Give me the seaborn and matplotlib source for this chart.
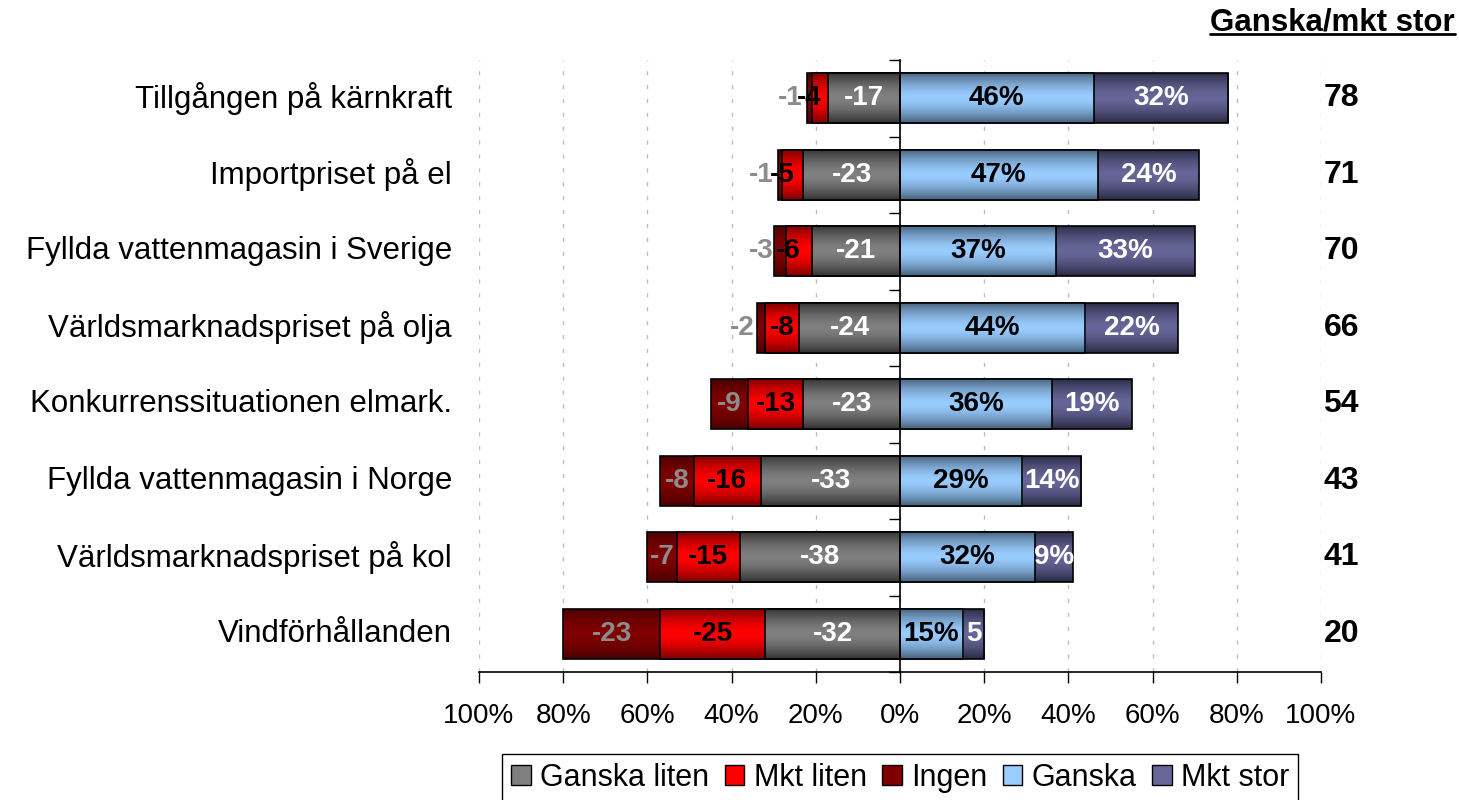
import numpy as np
import pandas as pd
import matplotlib
matplotlib.use("Agg")
import matplotlib.pyplot as plt
import matplotlib.transforms as mtransforms
from matplotlib.colors import to_rgb
from matplotlib.patches import Patch
from matplotlib.lines import Line2D
import seaborn as sns

# values (percent)
categories = [
    "Tillgången på kärnkraft",
    "Importpriset på el",
    "Fyllda vattenmagasin i Sverige",
    "Världsmarknadspriset på olja",
    "Konkurrenssituationen elmark.",
    "Fyllda vattenmagasin i Norge",
    "Världsmarknadspriset på kol",
    "Vindförhållanden",
]
ganska_liten = [17, 23, 21, 24, 23, 33, 38, 32]
mkt_liten = [4, 5, 6, 8, 13, 16, 15, 25]
ingen = [1, 1, 3, 2, 9, 8, 7, 23]
ganska = [46, 47, 37, 44, 36, 29, 32, 15]
mkt_stor = [32, 24, 33, 22, 19, 14, 9, 5]
mkt_stor_labels = ["32%", "24%", "33%", "22%", "19%", "14%", "9%", "5"]
totals = [78, 71, 70, 66, 54, 43, 41, 20]

series_names = ["Ganska liten", "Mkt liten", "Ingen", "Ganska", "Mkt stor"]
# (centre colour, edge colour, label colour)
colors = {
    "Ganska liten": ("#808080", "#333333", "white"),
    "Mkt liten": ("#ff0000", "#7a0000", "black"),
    "Ingen": ("#800000", "#4a0000", "#8c8c8c"),
    "Ganska": ("#99ccff", "#46607a", "black"),
    "Mkt stor": ("#666699", "#2a2a45", "white"),
}

sns.set_theme(style="white")
plt.rcParams["font.family"] = ["Liberation Sans", "DejaVu Sans"]
plt.rcParams["text.color"] = "black"
plt.rcParams["xtick.color"] = "black"
plt.rcParams["ytick.color"] = "black"
FS = 20

df = pd.DataFrame({
    "cat": categories,
    "ganska_liten": ganska_liten,
    "mkt_liten": mkt_liten,
    "ingen": ingen,
    "ganska": ganska,
    "mkt_stor": mkt_stor,
})
df["c_gl"] = -df["ganska_liten"]
df["c_ml"] = df["c_gl"] - df["mkt_liten"]
df["c_in"] = df["c_ml"] - df["ingen"]
df["c_g"] = df["ganska"]
df["c_ms"] = df["c_g"] + df["mkt_stor"]

fig = plt.figure(figsize=(14.59, 8), dpi=100)
ax = fig.add_axes([0.3283, 0.16, 0.5771, 0.765])

# longest cumulative layer first so inner segments sit on top
layers = [("c_in", "Ingen"), ("c_ml", "Mkt liten"), ("c_gl", "Ganska liten"),
          ("c_ms", "Mkt stor"), ("c_g", "Ganska")]

n_cat = len(categories)
for k, (col, name) in enumerate(layers):
    before = len(ax.patches)
    sns.barplot(data=df, x=col, y="cat", orient="h", color=colors[name][0],
                width=0.66, edgecolor="black", linewidth=1.2, ax=ax)
    new = ax.patches[before:]
    base = 2 + k * 0.1
    centre = np.array(to_rgb(colors[name][0]))
    edge = np.array(to_rgb(colors[name][1]))
    t = np.linspace(-1, 1, 64)
    w = np.abs(t) ** 1.6
    grad = (centre[None, :] * (1 - w[:, None]) + edge[None, :] * w[:, None])[:, None, :]
    for p in new:
        x0, y0 = p.get_x(), p.get_y()
        x1, y1 = x0 + p.get_width(), y0 + p.get_height()
        im = ax.imshow(grad, extent=[min(x0, x1), max(x0, x1), y1, y0],
                       aspect="auto", interpolation="bilinear", zorder=base + 0.01)
        im.set_clip_path(p)
        p.set_facecolor("none")
        p.set_zorder(base + 0.02)

ax.set_xlim(-100, 100)
ax.set_ylim(n_cat - 0.5, -0.5)

# segment labels (narrow segments get their label nudged outwards, as in the original)
ingen_x = [(a + b) / 2 - (4.5 if w < 4 else 0)
           for a, b, w in zip(df["c_ml"], df["c_in"], ingen)]
ml_x = [(a + b) / 2 - (2.5 if w < 7 else 0)
        for a, b, w in zip(df["c_gl"], df["c_ml"], mkt_liten)]
segs = [
    ("Ingen", ingen_x, [f"-{v}" for v in ingen]),
    ("Mkt liten", ml_x, [f"-{v}" for v in mkt_liten]),
    ("Ganska liten", df["c_gl"] / 2, [f"-{v}" for v in ganska_liten]),
    ("Ganska", df["c_g"] / 2, [f"{v}%" for v in ganska]),
    ("Mkt stor", (df["c_g"] + df["c_ms"]) / 2, mkt_stor_labels),
]
for name, xs, labs in segs:
    for i, (x, lab) in enumerate(zip(xs, labs)):
        ax.text(x, i, lab, ha="center", va="center", fontsize=FS,
                fontweight="bold", color=colors[name][2], zorder=5)

# category names and totals
trans = mtransforms.blended_transform_factory(ax.transAxes, ax.transData)
for i, (cat, tot) in enumerate(zip(categories, totals)):
    ax.text(-0.032, i, cat, transform=trans, ha="right", va="center", fontsize=22.5)
    ax.text(1.003, i, str(tot), transform=trans, ha="left", va="center",
            fontsize=23, fontweight="bold")

# axes styling
ax.set_xlabel("")
ax.set_ylabel("")
ticks = np.arange(-100, 101, 20)
ax.set_xticks(ticks)
ax.set_xticklabels([f"{abs(v)}%" for v in ticks], fontsize=FS)
ax.set_yticks(np.arange(-0.5, n_cat, 1))
ax.set_yticklabels([])
ax.tick_params(axis="x", direction="out", length=8, width=1, color="black", pad=14, bottom=True)
ax.tick_params(axis="y", direction="out", length=8, width=1, color="black", left=True)
for s in ["top", "right"]:
    ax.spines[s].set_visible(False)
ax.spines["left"].set_position(("data", 0))
ax.spines["left"].set_zorder(6)
for s in ["left", "bottom"]:
    ax.spines[s].set_color("black")
    ax.spines[s].set_linewidth(1.2)
ax.xaxis.grid(True, linestyle=(0, (3, 7)), color="#bdbdbd", linewidth=1)
ax.yaxis.grid(False)
ax.set_axisbelow(True)

# header with underline
hdr = fig.text(0.997, 0.972, "Ganska/mkt stor", ha="right", va="center",
               fontsize=22.5, fontweight="bold")
fig.canvas.draw()
bb = hdr.get_window_extent().transformed(fig.transFigure.inverted())
fig.add_artist(Line2D([bb.x0, bb.x1], [bb.y0 + 0.004, bb.y0 + 0.004],
                      transform=fig.transFigure, color="black", linewidth=2))

handles = [Patch(facecolor=colors[n][0], edgecolor="black", linewidth=1) for n in series_names]
leg = fig.legend(handles, series_names, loc="upper center", bbox_to_anchor=(0.617, 0.058),
                 ncol=5, frameon=True, fancybox=False, edgecolor="black", framealpha=1,
                 fontsize=22, handlelength=0.65, handleheight=0.65, handletextpad=0.3,
                 columnspacing=0.5, borderpad=0.3, borderaxespad=0)
leg.get_frame().set_linewidth(1)

fig.savefig("out.png", dpi=100)
